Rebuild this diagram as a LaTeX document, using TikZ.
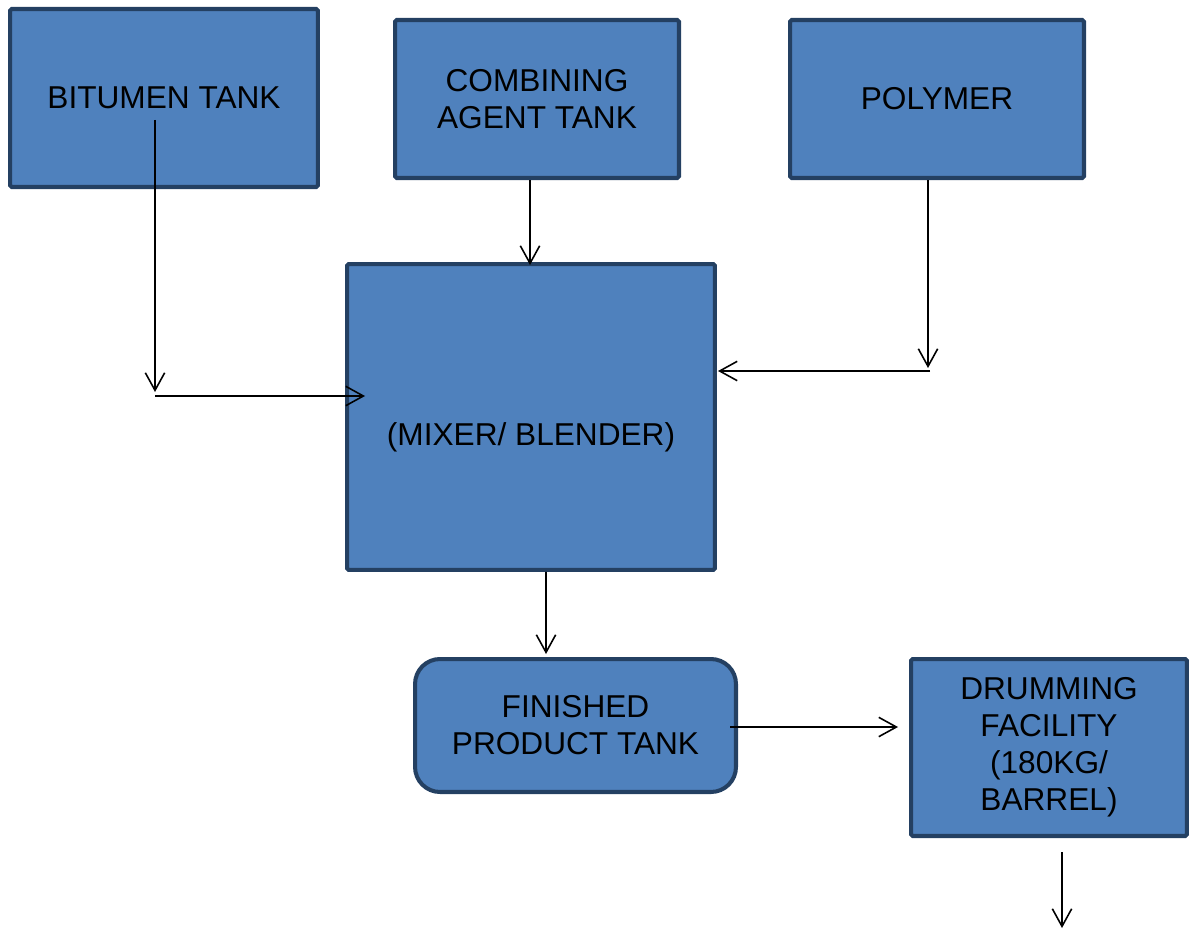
\documentclass[tikz,border=0pt]{standalone}
\usepackage{fontspec}
\setmainfont{Liberation Sans}
\setsansfont{Liberation Sans}
\usepackage{xcolor}
\usepackage{tikz}
\usetikzlibrary{shapes,arrows.meta,positioning,calc}
\definecolor{tankblue}{RGB}{79,129,189}
\definecolor{tankedge}{RGB}{36,64,98}

\begin{document}
\begin{tikzpicture}[x=0.02cm,y=-0.02cm,
    font=\sffamily\fontsize{18}{21}\selectfont,
    tankbox/.style={rectangle, draw=tankedge, fill=tankblue, line width=2.3pt, align=center, inner sep=2pt, rounded corners=1pt},
    flowarrow/.style={-{Straight Barb[length=10pt,width=11pt,line width=0.9pt]}, line width=0.9pt, black}]
        \useasboundingbox (0,0) rectangle (1189,929);
        % feed tanks
        \node[tankbox, minimum width=6.16cm, minimum height=3.56cm] (bitumen) at (164,98) {BITUMEN TANK};
        \node[tankbox, minimum width=5.68cm, minimum height=3.16cm] (agent) at (537,99) {COMBINING\\AGENT TANK};
        \node[tankbox, minimum width=5.88cm, minimum height=3.16cm] (polymer) at (937,99) {POLYMER};
        % mixer
        \node[tankbox, minimum width=7.36cm, minimum height=6.12cm,
              label={[yshift=-0.4cm]center:(MIXER/ BLENDER)}] (mixer) at (531,417) {};
        % product and drumming
        \node[tankbox, rounded corners=0.5cm, minimum width=6.42cm, minimum height=2.66cm] (finished) at (575.5,725.5) {FINISHED\\PRODUCT TANK};
        \node[tankbox, minimum width=5.52cm, minimum height=3.54cm] (drumming) at (1049,747.5) {DRUMMING\\FACILITY\\(180KG/\\BARREL)};

        % pipe corners
        \coordinate (bitstart) at (155,120);
        \coordinate (bitbend) at (155,392);
        \coordinate (bitjoin) at (155,396);
        \coordinate (polbend) at (928,368);
        \coordinate (poljoin) at (930,371);
        \coordinate (drumout) at (1062,928);

        \draw[flowarrow] (bitstart) -- (bitbend);
        \draw[flowarrow] (bitjoin) -- ([xshift=0.4cm]mixer.west |- bitjoin);
        \draw[flowarrow] ([xshift=-0.14cm]agent.south) -- ([xshift=-0.02cm,yshift=-0.06cm]mixer.north);
        \draw[flowarrow] (polymer.south -| polbend) -- (polbend);
        \draw[flowarrow] (poljoin) -- ([xshift=0.02cm]mixer.east |- poljoin);
        \draw[flowarrow] ([xshift=0.3cm]mixer.south) -- ([xshift=-0.59cm,yshift=0.06cm]finished.north);
        \draw[flowarrow] ([xshift=-0.16cm,yshift=-0.03cm]finished.east) -- ([xshift=-0.22cm,yshift=0.41cm]drumming.west);
        \draw[flowarrow] ([xshift=0.26cm,yshift=-0.28cm]drumming.south) -- (drumout);
\end{tikzpicture}
\end{document}
